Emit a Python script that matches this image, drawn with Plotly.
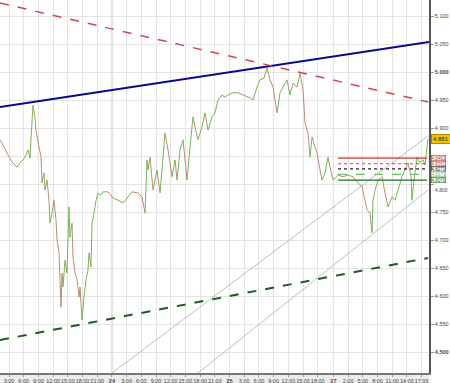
import plotly.graph_objects as go

# ---- data (time in trading hours from start of day 23, price) ----
t_hours = [1.16, 1.98, 2.80, 3.61, 4.22, 4.63, 5.24, 5.86, 6.27, 6.88, 7.29, 7.49, 7.90, 8.31, 8.51,
           9.12, 9.53, 9.73, 10.14, 10.35, 10.76, 11.16, 11.37, 11.78, 12.18, 12.59, 12.80, 13.20,
           13.41, 13.61, 13.82, 14.02, 14.43, 14.84, 15.24, 15.45, 15.86, 16.06, 16.47, 16.88, 17.29,
           17.49, 17.90, 18.31, 18.71, 19.12, 19.33, 19.73, 19.94, 20.35, 20.76, 21.16, 21.57, 22.18,
           23.20, 24.22, 25.24, 26.27, 27.29, 28.10, 29.33, 30.14, 30.76, 31.16, 31.37, 31.78, 32.39,
           33.20, 33.82, 34.84, 35.45, 36.27, 36.88, 37.29, 37.90, 38.51, 39.33, 39.94, 40.55, 40.96,
           41.57, 42.39, 43.00, 43.61, 44.43, 45.04, 45.65, 46.47, 47.08, 47.69, 48.71, 49.73, 50.76,
           52.18, 52.80, 53.61, 54.22, 55.04, 55.65, 56.27, 56.88, 57.69, 58.31, 58.92, 59.73, 60.35,
           60.96, 61.78, 62.39, 63.00, 63.41, 64.02, 64.43, 64.84, 65.45, 65.86, 66.47, 66.88, 67.49,
           68.10, 68.51, 69.12, 70.14, 71.16, 72.18, 73.20, 74.22, 75.04, 75.65, 76.06, 76.67, 77.08,
           77.29, 77.69, 78.31, 79.12, 79.73, 80.35, 81.16, 81.78, 82.39, 83.20, 83.82, 84.43, 85.04,
           85.24, 85.65, 86.27, 86.88, 87.49, 87.90, 88.31, 88.51]
price = [4.879, 4.866, 4.852, 4.839, 4.834, 4.830, 4.838, 4.843, 4.848, 4.861, 4.846, 4.882, 4.941,
         4.918, 4.896, 4.866, 4.848, 4.802, 4.820, 4.789, 4.807, 4.771, 4.730, 4.748, 4.771, 4.736,
         4.700, 4.677, 4.629, 4.580, 4.641, 4.616, 4.664, 4.641, 4.759, 4.705, 4.730, 4.670, 4.641,
         4.629, 4.598, 4.616, 4.557, 4.598, 4.629, 4.646, 4.677, 4.652, 4.730, 4.748, 4.771, 4.784,
         4.780, 4.786, 4.786, 4.775, 4.771, 4.766, 4.777, 4.786, 4.784, 4.777, 4.748, 4.843, 4.825,
         4.848, 4.789, 4.825, 4.784, 4.891, 4.861, 4.813, 4.843, 4.807, 4.861, 4.879, 4.807, 4.866,
         4.920, 4.902, 4.879, 4.902, 4.927, 4.896, 4.920, 4.927, 4.950, 4.959, 4.955, 4.959, 4.963,
         4.963, 4.959, 4.954, 4.950, 4.973, 4.986, 4.989, 5.007, 4.986, 4.973, 4.927, 4.963, 4.973,
         4.986, 4.959, 4.980, 4.973, 4.998, 4.968, 4.909, 4.891, 4.848, 4.884, 4.866, 4.855, 4.825,
         4.807, 4.820, 4.848, 4.830, 4.807, 4.816, 4.813, 4.816, 4.813, 4.802, 4.795, 4.771, 4.754,
         4.748, 4.713, 4.771, 4.789, 4.807, 4.813, 4.784, 4.759, 4.777, 4.771, 4.789, 4.813, 4.825,
         4.838, 4.813, 4.771, 4.807, 4.848, 4.838, 4.843, 4.834, 4.866, 4.881]

last_price = 4.881

# trend lines: (t_start, t_end), (p_start, p_end)
blue_t, blue_p = [1.16, 88.71], [4.9375, 5.0536]
red_t, red_p = [1.16, 88.51], [5.1232, 4.9464]
gdash_t, gdash_p = [1.16, 88.51], [4.5214, 4.6679]
chanA_t, chanA_p = [24.02, 88.51], [4.4625, 4.8857]
chanB_t, chanB_p = [41.57, 88.51], [4.4625, 4.7893]

# horizontal levels
level_t = [70.14, 88.31]
level_vals = [4.8463, 4.8362, 4.8271, 4.8173, 4.8070]
level_labels = ["4.8463", "4.8362", "4.8271", "4.8173", "4.8070"]
level_colors = ["#c0392b", "#d04040", "#222222", "#6cc06c", "#1e6e1e"]
level_dash = ["solid", "dot", "dot", "dash", "solid"]

# x ticks
tick_t = [3, 6, 9, 12, 15, 18, 21, 24, 27, 30, 33, 36, 39, 42, 45, 48, 51, 54, 57, 60, 63, 66,
          69.2, 72.2, 75.2, 78.2, 81.2, 84.2, 87.2]
tick_text = ["3:00", "6:00", "9:00", "12:00", "15:00", "18:00", "21:00", "24",
             "3:00", "6:00", "9:00", "12:00", "15:00", "18:00", "21:00", "25",
             "3:00", "6:00", "9:00", "12:00", "15:00", "18:00", "27",
             "2:00", "5:00", "8:00", "11:00", "14:00", "17:00"]
day_labels = {"24", "25", "27"}

# y ticks (4.850 is hidden behind the level tags; 4.800 is pushed just below them)
y_ticks = [4.50, 4.55, 4.60, 4.65, 4.70, 4.75, 4.80, 4.85, 4.90, 4.95, 5.00, 5.05, 5.10]
bold_y = {4.50, 5.00}
hidden_y = {4.85}
shifted_y = {4.80}

X_RANGE = [1.16, 88.71]
Y_RANGE = [4.4625, 5.1286]

fig = go.Figure()

# price path split into rising / falling segments
up_x, up_y, dn_x, dn_y = [], [], [], []
for i in range(1, len(price)):
    seg_x = [t_hours[i - 1], t_hours[i], None]
    seg_y = [price[i - 1], price[i], None]
    if price[i] >= price[i - 1]:
        up_x += seg_x; up_y += seg_y
    else:
        dn_x += seg_x; dn_y += seg_y
fig.add_trace(go.Scatter(x=dn_x, y=dn_y, mode="lines", line=dict(color="#c08a72", width=1),
                         hoverinfo="skip", showlegend=False))
fig.add_trace(go.Scatter(x=up_x, y=up_y, mode="lines", line=dict(color="#6fba4f", width=1),
                         hoverinfo="skip", showlegend=False))

# trend lines
fig.add_trace(go.Scatter(x=chanA_t, y=chanA_p, mode="lines", line=dict(color="#a3b3a3", width=0.8),
                         showlegend=False))
fig.add_trace(go.Scatter(x=chanB_t, y=chanB_p, mode="lines", line=dict(color="#a3b3a3", width=0.8),
                         showlegend=False))
fig.add_trace(go.Scatter(x=blue_t, y=blue_p, mode="lines", line=dict(color="#0a0a8a", width=2),
                         showlegend=False))
fig.add_trace(go.Scatter(x=red_t, y=red_p, mode="lines",
                         line=dict(color="#d04848", width=1.5, dash="dash"), showlegend=False))
fig.add_trace(go.Scatter(x=gdash_t, y=gdash_p, mode="lines",
                         line=dict(color="#1f5a1f", width=2, dash="dash"), showlegend=False))

# horizontal levels
for v, c, d in zip(level_vals, level_colors, level_dash):
    fig.add_trace(go.Scatter(x=level_t, y=[v, v], mode="lines", line=dict(color=c, width=1.2, dash=d),
                             showlegend=False))

shapes = []
# day separators
for tv, tx in zip(tick_t, tick_text):
    if tx in day_labels:
        shapes.append(dict(type="line", xref="x", yref="paper", x0=tv, x1=tv, y0=0, y1=1,
                           line=dict(color="#b8b8b8", width=1), layer="below"))
# bottom label strip
shapes.append(dict(type="rect", xref="paper", yref="paper", x0=0, x1=1, y0=-0.03, y1=0,
                   fillcolor="#ececec", line=dict(width=0), layer="below"))

annotations = []
for v, lab, c in zip(level_vals, level_labels, level_colors):
    annotations.append(dict(xref="paper", x=1, xanchor="left", xshift=2, yref="y", y=v,
                            text=lab, showarrow=False, font=dict(size=4.5, color=c, family="Arial"),
                            bgcolor="white", bordercolor=c, borderwidth=0.6, borderpad=0))
annotations.append(dict(xref="paper", x=1, xanchor="left", xshift=2, yref="y", y=last_price,
                        text="4.881", showarrow=False, font=dict(size=6, color="#222", family="Arial"),
                        bgcolor="#f2c200", bordercolor="#b08800", borderwidth=1, borderpad=1))
for v in y_ticks:
    if round(v, 2) in shifted_y:
        annotations.append(dict(xref="paper", x=1, xanchor="left", xshift=4, yref="y", y=v,
                                yanchor="top", yshift=-1, text=f"{v:.3f}", showarrow=False,
                                font=dict(size=5, color="#444", family="Arial")))

fig.update_layout(
    width=450, height=383,
    margin=dict(l=0, r=21, t=0, b=10, autoexpand=False),
    paper_bgcolor="white", plot_bgcolor="white",
    shapes=shapes, annotations=annotations,
    showlegend=False,
    xaxis=dict(range=X_RANGE, tickmode="array", tickvals=tick_t,
               ticktext=[f"<b>{s}</b>" if s in day_labels else s for s in tick_text],
               tickangle=0, automargin=False,
               showgrid=True, gridcolor="#e4e4e4", gridwidth=1,
               showline=True, linecolor="#777", linewidth=1.5, ticks="outside", ticklen=2,
               tickcolor="#999", tickfont=dict(size=5.5, color="#444", family="Arial"),
               zeroline=False, fixedrange=True),
    yaxis=dict(range=Y_RANGE, side="right", tickmode="array", tickvals=y_ticks,
               ticktext=["" if round(v, 2) in hidden_y or round(v, 2) in shifted_y else
                         (f"<b>{v:.3f}</b>" if round(v, 2) in bold_y else f"{v:.3f}") for v in y_ticks],
               automargin=False,
               showgrid=True, gridcolor="#e4e4e4", gridwidth=1,
               showline=True, linecolor="#555", linewidth=1.5, ticks="outside", ticklen=3,
               tickcolor="#999", tickfont=dict(size=5.5, color="#444", family="Arial"),
               zeroline=False, fixedrange=True),
)

fig.write_html("out.html", config={"displayModeBar": False},
               post_script="document.body.style.margin='0';document.body.style.padding='0';")
